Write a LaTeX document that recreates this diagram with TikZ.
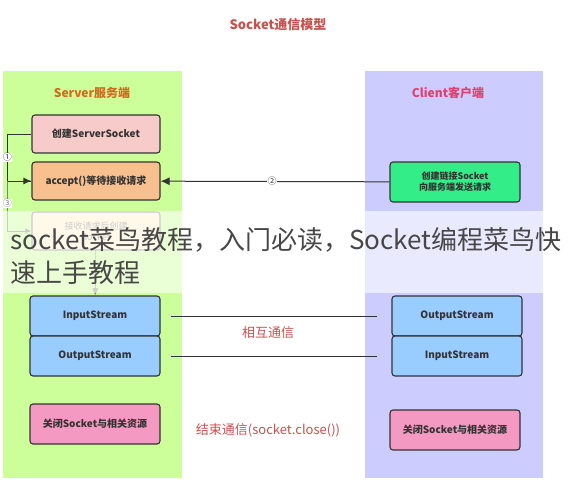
\documentclass[tikz,border=0pt]{standalone}
\usepackage{fontspec}
\setmainfont{Noto Sans CJK SC}
\newfontfamily\cjk{Noto Sans CJK SC}
\usetikzlibrary{arrows.meta}
\usetikzlibrary{calc}

\definecolor{srvpanel}{HTML}{CCFF99}
\definecolor{clipanel}{HTML}{CCCCFF}
\definecolor{titlered}{HTML}{C8504D}
\definecolor{srvlabel}{HTML}{D2691E}
\definecolor{clilabel}{HTML}{E0406E}
\definecolor{createfill}{HTML}{F8CBCB}
\definecolor{acceptfill}{HTML}{F9C08F}
\definecolor{recvfill}{HTML}{FFF2CC}
\definecolor{connfill}{HTML}{33EE88}
\definecolor{streamfill}{HTML}{99CCFF}
\definecolor{closefill}{HTML}{F49AC2}
\definecolor{boxline}{HTML}{333333}

\tikzset{
  box/.style={draw=boxline, line width=1.1pt, rounded corners=3pt,
    minimum width=128pt, minimum height=38pt, align=center,
    font=\cjk\bfseries\fontsize{10}{12}\selectfont, text=boxline},
  redtext/.style={text=titlered, font=\cjk\fontsize{13}{15}\selectfont},
  stepnum/.style={fill=white, inner sep=0.5pt, font=\cjk\fontsize{9}{9}\selectfont, text=boxline},
}

\begin{document}
\begin{tikzpicture}[x=1pt,y=-1pt]
        \useasboundingbox (0,0) rectangle (568,490);
        % panels
        \fill[srvpanel] (3,71) rectangle (182,478);
        \fill[clipanel] (365,71) rectangle (543,478);
        \node[redtext, font=\cjk\bfseries\fontsize{13}{15}\selectfont] (title) at (278,25) {Socket通信模型};
        \node[text=srvlabel, font=\cjk\bfseries\fontsize{12}{14}\selectfont] (server) at (92,93) {Server服务端};
        \node[text=clilabel, font=\cjk\bfseries\fontsize{12}{14}\selectfont] (client) at (448,93) {Client客户端};
        % server side
        \node[box, fill=createfill] (create) at (96,134) {创建ServerSocket};
        \node[box, fill=acceptfill] (accept) at (96,181) {accept()等待接收请求};
        \node[box, fill=recvfill, draw=gray, text=gray, font=\cjk\fontsize{9}{11}\selectfont] (recv) at (96,231) {接收请求后创建\\Socket};
        \node[box, fill=streamfill, minimum width=130pt, minimum height=40pt] (inS) at (95,316) {InputStream};
        \node[box, fill=streamfill, minimum width=130pt, minimum height=40pt] (outS) at (95,356) {OutputStream};
        \node[box, fill=closefill, minimum width=130pt, minimum height=40pt] (closeS) at (95,424) {关闭Socket与相关资源};
        % client side
        \node[box, fill=connfill, minimum width=130pt, minimum height=40pt, font=\cjk\bfseries\fontsize{9}{11}\selectfont] (conn) at (455,182) {创建链接Socket\\向服务端发送请求};
        \node[box, fill=streamfill, minimum width=130pt, minimum height=40pt] (outC) at (457,316) {OutputStream};
        \node[box, fill=streamfill, minimum width=130pt, minimum height=40pt] (inC) at (457,356) {InputStream};
        \node[box, fill=closefill, minimum width=130pt, minimum height=40pt] (closeC) at (455,430) {关闭Socket与相关资源};
        % connectors
        \draw[boxline, line width=1pt] (create.west) -- ++(-24,0) coordinate (loop) |- (accept.west)
            node[pos=0.25, stepnum] (one) {①};
        \draw[-{Latex[length=8pt,width=7pt]}, boxline, line width=1pt] (loop |- accept.west) -- (accept.west);
        \draw[-{Latex[length=6pt,width=5pt]}, gray, line width=0.8pt] (loop |- accept.west) -- (loop |- recv.west)
            node[pos=0.45, stepnum, text=gray] (three) {③} -- (recv.west);
        \draw[-{Latex[length=9pt,width=8pt]}, boxline, line width=1pt] (conn) -- (accept)
            node[midway, stepnum, xshift=-3pt] (two) {②};
        \draw[-{Latex[length=7pt,width=6pt]}, gray, line width=0.8pt] (recv) -- (inS);
        \draw[boxline, line width=1pt, shorten <=10pt, shorten >=14pt] (inS.east) -- (outC.west |- inS.east);
        \draw[boxline, line width=1pt, shorten <=10pt, shorten >=14pt] (outS.east) -- (inC.west |- outS.east);
        \node[redtext] (mutual) at (268,333) {相互通信};
        \node[redtext] (finish) at (268,430) {结束通信(socket.close())};
        % overlay band
        \fill[white, opacity=0.6] (0,211) rectangle (568,293);
        \node[anchor=west, text=black!72, font=\cjk\fontsize{26}{28}\selectfont, inner sep=0pt] (cap1) at (10,240) {socket菜鸟教程，入门必读，Socket编程菜鸟快};
        \node[anchor=west, text=black!72, font=\cjk\fontsize{26}{28}\selectfont, inner sep=0pt] (cap2) at (10,273) {速上手教程};
    \end{tikzpicture}
\end{document}
